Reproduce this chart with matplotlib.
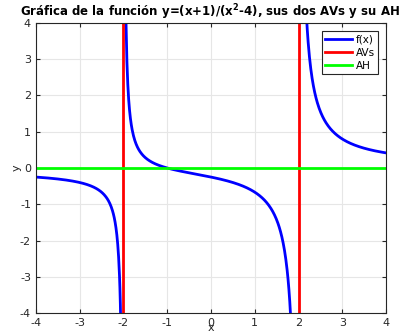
import numpy as np
from matplotlib import pyplot as plt

plt.rcParams["axes.unicode_minus"] = False

# y = (x+1)/(x^2-4) on [-4, 4], vertical asymptotes at x=-2, 2, horizontal asymptote y=0
x = np.linspace(-4, 4, 801)
x = x[np.abs(np.abs(x) - 2) > 0.004]
y = (x + 1) / (x**2 - 4)
# split the curve into its three branches
branches = [x < -2, (x > -2) & (x < 2), x > 2]

av_x = [-2, 2]
ah_y = 0

fig = plt.figure(figsize=(4.03, 3.33), dpi=100)
ax = fig.add_axes([0.089, 0.06, 0.869, 0.871])

for i, m in enumerate(branches):
    ax.plot(x[m], y[m], color=(0, 0, 1), lw=2, label="f(x)" if i == 0 else None)
for i, a in enumerate(av_x):
    ax.plot([a, a], [-4, 4], color=(1, 0, 0), lw=2, label="AVs" if i == 0 else None)
ax.plot([-4, 4], [ah_y, ah_y], color=(0, 1, 0), lw=2, label="AH")

ax.set_xlim(-4, 4)
ax.set_ylim(-4, 4)
ax.set_xticks(range(-4, 5))
ax.set_yticks(range(-4, 5))
ax.grid(True, color="#e6e6e6", lw=0.8)
ax.tick_params(direction="in", labelsize=8, colors="#262626", length=3, top=True, right=True)
for s in ax.spines.values():
    s.set_color("#262626")
    s.set_linewidth(0.8)

ax.set_xlabel("x", fontsize=8, labelpad=-3.5, color="#262626")
ax.set_ylabel("y", fontsize=8, labelpad=-1, color="#262626")
fig.text(0.52, 0.962, "Gráfica de la función y=(x+1)/(x$^\\mathbf{2}$-4), sus dos AVs y su AH",
         fontsize=8.5, fontweight="bold", ha="center", va="center")

leg = ax.legend(loc="upper right", fontsize=7.5, fancybox=False, framealpha=1,
                edgecolor="#262626", handlelength=2.6, borderpad=0.3,
                labelspacing=0.3, handletextpad=0.3, borderaxespad=0.8)
leg.get_frame().set_linewidth(0.8)

fig.savefig("out.png", dpi=100)
